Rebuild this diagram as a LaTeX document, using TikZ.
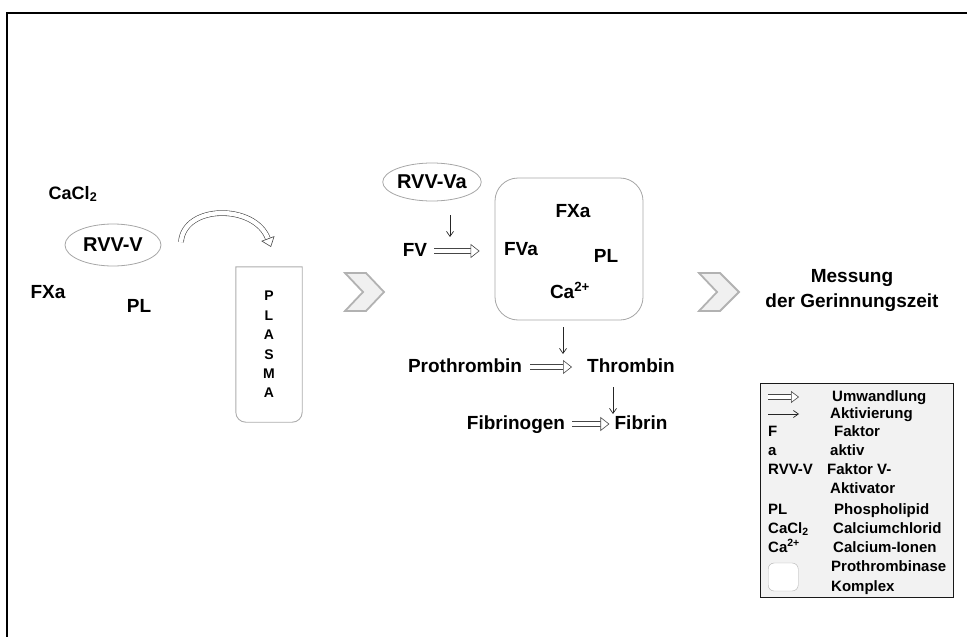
\documentclass[tikz,border=0pt]{standalone}
\usepackage{fontspec}
\setmainfont{Liberation Sans}
\usetikzlibrary{positioning,arrows.meta,calc,shapes.geometric}

\begin{document}
\begin{tikzpicture}[
    x=1pt, y=1pt,
    txt/.style={font=\fontsize{19}{22}\selectfont\bfseries, inner sep=0pt, text height=14pt, text depth=4pt},
    oval/.style={draw=gray!70, ellipse, line width=0.8pt, minimum width=96pt, minimum height=42pt, inner sep=0pt, font=\fontsize{20}{22}\selectfont\bfseries},
    tube/.style={minimum width=66pt, minimum height=155pt, align=center, inner sep=0pt, font=\fontsize{14}{19.4}\selectfont\bfseries},
    outline/.style={draw=gray!65, line width=0.9pt},
    conv/.style={draw=gray!55!black, line width=0.6pt, double=white, double distance=4.4pt, -{Triangle[open, fill=white, length=9pt, width=14pt, line width=0.6pt]}},
    act/.style={draw=gray!30!black, line width=0.7pt, -{Straight Barb[length=5pt, width=7pt]}},
    chev/.style={draw=gray!60, fill=gray!12, line width=1.8pt, line join=miter},
    leg/.style={anchor=west, font=\fontsize{15}{17}\selectfont\bfseries, inner sep=0pt, text height=11pt, text depth=3pt}
]
\useasboundingbox (0,0) rectangle (967,-637);
\draw[line width=2.5pt] (7,-637) -- (7,-13) -- (967,-13);

% reagents and plasma
\node[txt, font=\fontsize{18}{20}\selectfont\bfseries] (cacl) at (73,-194) {CaCl\textsubscript{2}};
\node[oval] (rvvv) at (113,-245) {RVV-V};
\node[txt] (fxaleft) at (48,-293) {FXa};
\node[txt] (plleft) at (139,-307) {PL};

\coordinate (curvestart) at (181,-242);
\coordinate (curveend) at (271,-247);
\draw[conv] (curvestart) .. controls (184,-204) and (255,-204) .. (curveend);

\node[tube] (plasma) at (269,-344.5) {P\\L\\A\\S\\M\\A};
\draw[outline] (plasma.north west) -- ($(plasma.south west)+(0,10)$) to[out=-90, in=180] ($(plasma.south west)+(10,0)$) -- ($(plasma.south east)+(-10,0)$) to[out=0, in=-90] ($(plasma.south east)+(0,10)$) -- (plasma.north east) -- cycle;

\draw[chev] (345,-273) -- (366,-273) -- (384,-292) -- (366,-311) -- (345,-311) -- (363,-292) -- cycle;
\draw[chev] (699,-273) -- (720,-273) -- (739,-292) -- (720,-311) -- (699,-311) -- (717,-292) -- cycle;

% prothrombinase complex
\node[oval, minimum width=86pt, minimum height=38pt] (rvvva) at (432,-182) {RVV-Va};
\node[txt] (fv) at (415,-251) {FV};
\node[draw=gray!70, line width=0.8pt, rounded corners=23pt, minimum width=148pt, minimum height=142pt] (complex) at (569,-249) {};
\node[txt] (fxa) at (573,-212) {FXa};
\node[txt] (fva) at (521,-250) {FVa};
\node[txt] (pl) at (606,-257) {PL};
\node[txt] (ca) at (570,-293) {Ca\textsuperscript{2+}};

\coordinate (fvin) at (450,-237);
\draw[act, shorten <=14pt] (rvvva.south -| fvin) -- (fvin);
\draw[conv, shorten <=7pt, shorten >=15pt] (fv.east) -- (fv.east -| complex.west);

% cascade
\node[txt] (prothrombin) at (465,-367) {Prothrombin};
\node[txt] (thrombin) at (631,-367) {Thrombin};
\node[txt] (fibrinogen) at (516,-424) {Fibrinogen};
\node[txt] (fibrin) at (641,-424) {Fibrin};

\coordinate (prothin) at (563,-354);
\draw[act, shorten <=7pt] (complex.south -| prothin) -- (prothin);
\draw[conv, shorten <=8pt, shorten >=15pt] (prothrombin) -- (thrombin);
\coordinate (fibin) at (613,-414);
\draw[act, shorten <=11pt] (thrombin.south -| fibin) -- (fibin);
\draw[conv, shorten <=7pt, shorten >=5pt] (fibrinogen) -- (fibrin);

\node[align=center, inner sep=0pt, font=\fontsize{19}{25}\selectfont\bfseries] (messung) at (852,-290) {Messung\\der Gerinnungszeit};

% legend
\draw[draw=gray!20!black, fill=gray!10, line width=0.8pt] (760,-383) rectangle (953,-597);
\draw[conv, double distance=4pt, -{Triangle[open, fill=white, length=8pt, width=12pt, line width=0.6pt]}] (768,-397) -- (799,-397);
\draw[act] (768,-414) -- (799,-414);
\node[leg] (keyf) at (768,-432) {F};
\node[leg] (keya) at (768,-451) {a};
\node[leg] (keyrvv) at (768,-470) {RVV-V};
\node[leg] (keypl) at (768,-510) {PL};
\node[leg] (keycacl) at (768,-529) {CaCl\textsubscript{2}};
\node[leg] (keyca) at (768,-548) {Ca\textsuperscript{2+}};
\node[draw=gray!60, fill=white, rounded corners=6pt, minimum width=30pt, minimum height=28pt, anchor=west] (keybox) at (768,-577) {};

\node[leg] (umw) at (832,-397) {Umwandlung};
\node[leg] (akt) at (830,-414) {Aktivierung};
\node[leg] (fak) at (834,-432) {Faktor};
\node[leg] (aktiv) at (830,-451) {aktiv};
\node[leg] (fakv) at (827,-470) {Faktor V-};
\node[leg] (aktor) at (830,-489) {Aktivator};
\node[leg] (phos) at (834,-510) {Phospholipid};
\node[leg] (calc) at (833,-529) {Calciumchlorid};
\node[leg] (ionen) at (833,-548) {Calcium-Ionen};
\node[leg] (prokx) at (831,-567) {Prothrombinase};
\node[leg] (komplex) at (831,-587) {Komplex};
\end{tikzpicture}
\end{document}
